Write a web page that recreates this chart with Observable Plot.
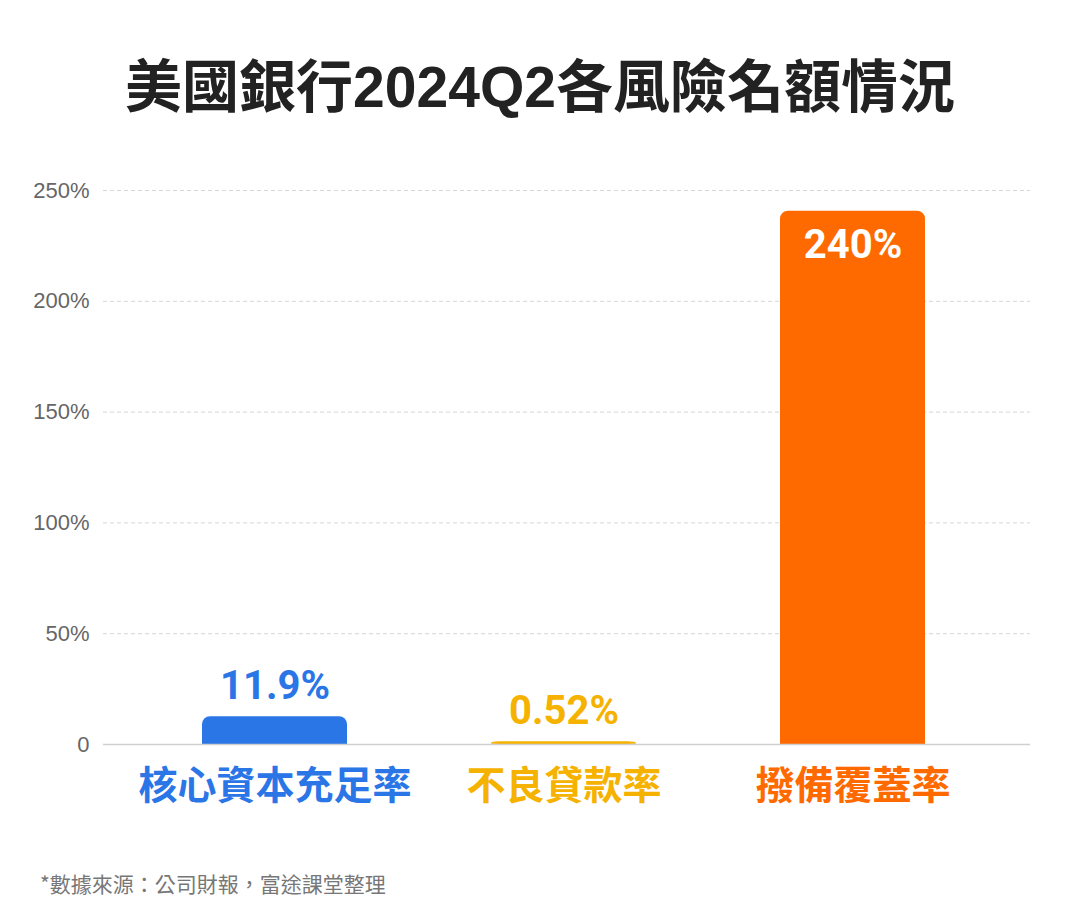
<!DOCTYPE html>
<html>
<head>
<meta charset="utf-8">
<script src="https://cdn.jsdelivr.net/npm/d3@7"></script>
<script src="https://cdn.jsdelivr.net/npm/@observablehq/plot@0.6"></script>
<style>
  html, body { margin: 0; padding: 0; background: #fff; }
  #wrap { position: relative; width: 1080px; height: 924px; overflow: hidden; }
  #title { position: absolute; left: 0; top: 0; width: 1080px; height: 174px; line-height: 174px;
    text-align: center; font-family: "Liberation Sans", "Noto Sans CJK TC", sans-serif; font-weight: 700; font-size: 57px; color: #222; }
  #chart { position: absolute; left: 0; top: 150px; }
  #note { position: absolute; left: 40px; top: 870px; line-height: 26px;
    font-family: "Noto Sans CJK TC", sans-serif; font-size: 21px; color: #777; }
</style>
</head>
<body>
<div id="wrap">
  <div id="title">美國銀行2024Q2各風險名額情況</div>
  <div id="chart"></div>
  <div id="note">*數據來源：公司財報，富途課堂整理</div>
</div>
<script>
const categories = ["核心資本充足率", "不良貸款率", "撥備覆蓋率"];
const values = [11.9, 0.52, 240];
const valueLabels = ["11.9%", "0.52%", "240%"];
const yTicks = [0, 50, 100, 150, 200, 250];
const colors = ["#2B76E6", "#F6B200", "#FF6A00"];

const data = categories.map((name, i) => ({name, value: values[i], label: valueLabels[i]}));
const numFont = "Roboto, Inter, sans-serif";

const chart = Plot.plot({
  width: 1080,
  height: 700,
  marginTop: 40,
  marginBottom: 106,
  marginLeft: 103,
  marginRight: 50,
  x: {domain: categories, paddingInner: 0.5, paddingOuter: 0.35, align: 0.485, axis: null},
  y: {domain: [0, 250], axis: null},
  color: {domain: categories, range: colors},
  marks: [
    Plot.ruleY(yTicks.filter(t => t > 0), {stroke: "#d6d6d6", strokeDasharray: "4,3", strokeWidth: 1}),
    Plot.text(yTicks, {
      y: d => d, frameAnchor: "left", dx: -14, textAnchor: "end",
      text: d => d === 0 ? "0" : d + "%",
      fill: "#666", fontSize: 22, fontFamily: "'Liberation Sans', Arial, sans-serif"
    }),
    Plot.barY(data, {x: "name", y: "value", fill: "name", rx: 8, insetTop: -1.5}),
    Plot.rectY(data, {x: "name", y1: 0, y2: d => d.value / 2, fill: "name"}),
    Plot.ruleY([0], {stroke: "#d0d0d0", strokeWidth: 1.5}),
    Plot.text(data.filter(d => d.value < 100), {
      x: "name", y: "value", text: "label", fill: "name", dy: -32,
      fontSize: 40, fontWeight: 700, fontFamily: numFont
    }),
    Plot.text(data.filter(d => d.value >= 100), {
      x: "name", y: "value", text: "label", fill: "white", dy: 33,
      fontSize: 40, fontWeight: 700, fontFamily: numFont
    }),
    Plot.text(data, {
      x: "name", y: 0, text: "name", fill: "name", dy: 42,
      fontSize: 39, fontWeight: 700, fontFamily: "'Noto Sans CJK TC', sans-serif"
    })
  ]
});
document.getElementById("chart").appendChild(chart);
</script>
</body>
</html>
